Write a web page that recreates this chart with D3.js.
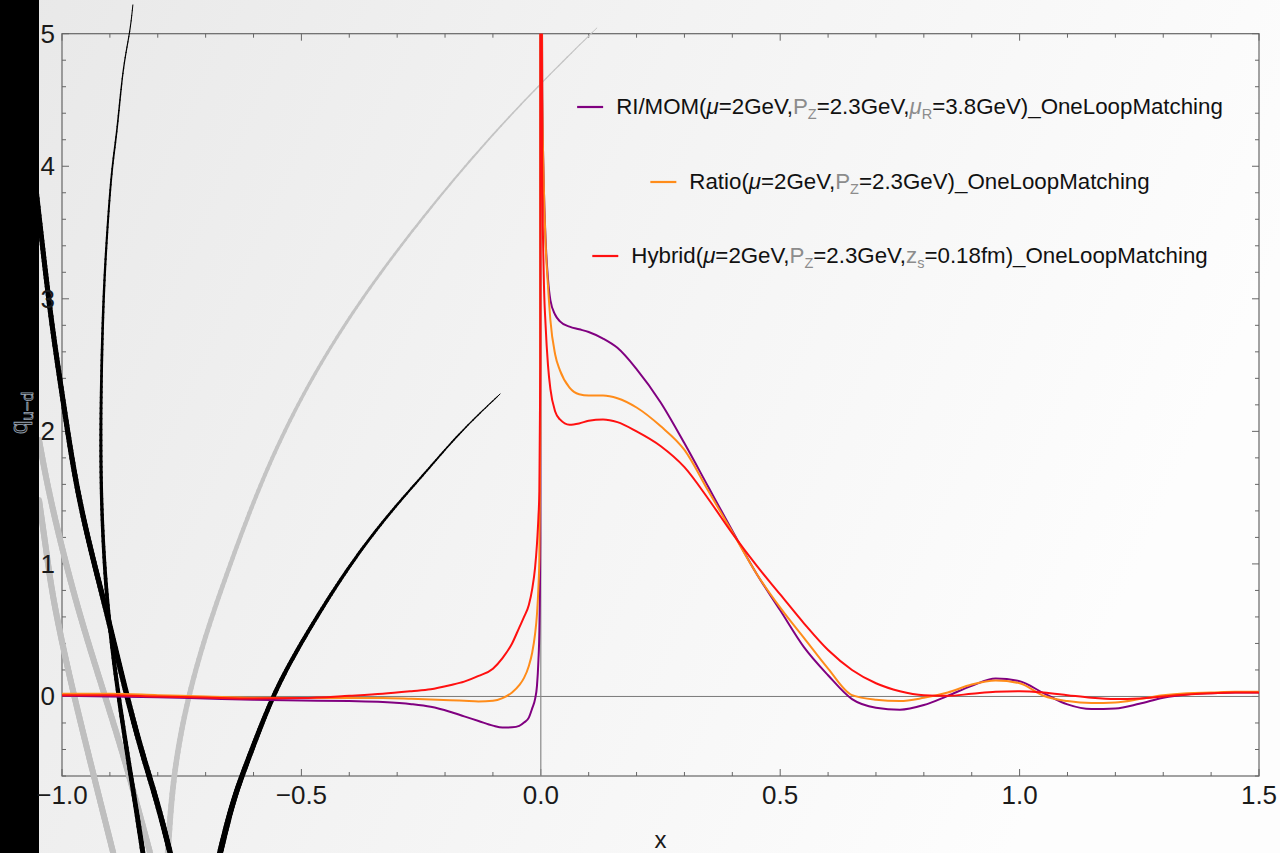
<!DOCTYPE html>
<html><head><meta charset="utf-8">
<script src="https://cdn.jsdelivr.net/npm/d3@7"></script>
<style>html,body{margin:0;padding:0;background:#fff;} svg{display:block;}</style>
</head><body>
<svg id="chart" width="1280" height="853"></svg>
<script>
// ---------- data ----------
const xValues = [
 -1.0, -0.9, -0.8, -0.7, -0.6, -0.5, -0.4, -0.33, -0.27, -0.23, -0.19, -0.16, -0.13,
 -0.1, -0.08, -0.06, -0.045, -0.035, -0.025, -0.018, -0.012, -0.008, -0.005, -0.003, -0.001, -0.0005,
 0.0005, 0.001, 0.003, 0.006, 0.01, 0.015, 0.02, 0.03, 0.04, 0.06, 0.08, 0.1,
 0.13, 0.16, 0.2, 0.25, 0.3, 0.35, 0.4, 0.45, 0.5, 0.55, 0.6,
 0.65, 0.7, 0.75, 0.8, 0.85, 0.9, 0.95, 1.0, 1.05, 1.1, 1.15, 1.2, 1.25, 1.3, 1.35, 1.4, 1.45, 1.5];
const riMomValues = [
 0.005, 0.0, -0.005, -0.015, -0.025, -0.03, -0.035, -0.042, -0.058, -0.078, -0.115, -0.15, -0.185,
 -0.22, -0.235, -0.233, -0.222, -0.197, -0.16, -0.09, -0.02, 0.08, 0.27, 0.5, 1.2, 9,
 9, 6.5, 4.6, 3.9, 3.45, 3.15, 2.99, 2.88, 2.83, 2.79, 2.77, 2.75,
 2.70, 2.63, 2.47, 2.22, 1.91, 1.58, 1.25, 0.93, 0.65, 0.37, 0.16,
 -0.02, -0.085, -0.10, -0.065, 0.005, 0.08, 0.135, 0.115, 0.025, -0.06, -0.095, -0.09, -0.055, -0.01, 0.015, 0.025, 0.03, 0.03];
const ratioValues = [
 0.02, 0.02, 0.01, 0.0, -0.01, -0.012, -0.012, -0.012, -0.018, -0.023, -0.028, -0.033, -0.038,
 -0.033, -0.012, 0.03, 0.085, 0.14, 0.23, 0.33, 0.47, 0.62, 0.82, 1.05, 2.0, 9,
 9, 6.5, 4.6, 3.9, 3.42, 3.1, 2.84, 2.58, 2.46, 2.33, 2.28, 2.27,
 2.27, 2.25, 2.18, 2.04, 1.86, 1.55, 1.24, 0.93, 0.67, 0.44, 0.21,
 0.01, -0.025, -0.035, -0.01, 0.03, 0.09, 0.12, 0.10, 0.005, -0.035, -0.05, -0.045, -0.02, 0.01, 0.025, 0.03, 0.035, 0.035];
const hybridValues = [
 0.01, 0.01, 0.0, -0.008, -0.015, -0.012, 0.005, 0.02, 0.04, 0.055, 0.085, 0.112, 0.155,
 0.21, 0.29, 0.40, 0.52, 0.60, 0.69, 0.81, 0.97, 1.15, 1.35, 1.55, 2.5, 9,
 9, 6.5, 4.0, 3.2, 2.8, 2.5, 2.32, 2.15, 2.09, 2.05, 2.06, 2.08,
 2.09, 2.07, 2.0, 1.89, 1.73, 1.49, 1.23, 0.99, 0.77, 0.55, 0.35,
 0.20, 0.10, 0.04, 0.01, 0.005, 0.02, 0.035, 0.04, 0.03, 0.01, -0.01, -0.02, -0.015, 0.0, 0.015, 0.025, 0.03, 0.03];

const seriesColors = ["#800080", "#ff8c1a", "#ff1010"];
const xTickValues = [-1, -0.5, 0, 0.5, 1, 1.5];
const xTickLabels = ["\u22121.0", "\u22120.5", "0.0", "0.5", "1.0", "1.5"];
const yTickValues = [0, 1, 2, 3, 4, 5];
const yTickLabels = ["0", "1", "2", "3", "4", "5"];
const xAxisTitle = "x";

// legend entries as rich-text runs: [text, style]  (n normal, i italic, g gray, gi gray italic, s gray subscript)
const legendRI = [["RI/MOM(", "n"], ["\u03bc", "i"], ["=2GeV,", "n"], ["P", "g"], ["Z", "s"], ["=2.3GeV,", "n"], ["\u03bc", "gi"], ["R", "s"], ["=3.8GeV)_OneLoopMatching", "n"]];
const legendRatio = [["Ratio(", "n"], ["\u03bc", "i"], ["=2GeV,", "n"], ["P", "g"], ["Z", "s"], ["=2.3GeV)_OneLoopMatching", "n"]];
const legendHybrid = [["Hybrid(", "n"], ["\u03bc", "i"], ["=2GeV,", "n"], ["P", "g"], ["Z", "s"], ["=2.3GeV,", "n"], ["z", "g"], ["s", "s"], ["=0.18fm)_OneLoopMatching", "n"]];

// decorative background strokes, in data coordinates
const decoBlackA = [[-0.852,5.217],[-0.858,5.006],[-0.873,4.749],[-0.885,4.251],[-0.896,3.995],[-0.906,3.497],[-0.914,2.991],[-0.919,2.237],[-0.919,1.633],[-0.914,1.128],[-0.904,0.630],[-0.887,0.124],[-0.866,-0.381],[-0.848,-0.781],[-0.831,-1.181]];
const decoBlackB = [[-1.054,3.821],[-1.036,3.240],[-1.019,2.742],[-0.998,2.237],[-0.973,1.633],[-0.942,1.128],[-0.906,0.630],[-0.873,0.124],[-0.837,-0.381],[-0.802,-0.781],[-0.774,-1.181]];
const decoBlackC = [[-0.085,2.282],[-0.169,1.995],[-0.238,1.701],[-0.309,1.415],[-0.378,1.098],[-0.447,0.728],[-0.538,0.177],[-0.580,-0.177],[-0.614,-0.502],[-0.643,-0.781],[-0.670,-1.181]];
const decoGrayD = [[0.117,5.043],[-0.002,4.621],[-0.127,4.138],[-0.252,3.595],[-0.378,2.991],[-0.482,2.388],[-0.555,1.860],[-0.607,1.407],[-0.653,0.954],[-0.697,0.502],[-0.733,0.049],[-0.758,-0.381],[-0.772,-0.781],[-0.779,-1.181]];
const decoGrayE = [[-1.048,1.935],[-1.025,1.482],[-0.973,0.728],[-0.921,0.124],[-0.868,-0.479],[-0.816,-1.181]];
const decoGrayF = [[-1.048,1.482],[-1.033,1.105],[-1.019,0.728],[-0.983,0.124],[-0.942,-0.479],[-0.893,-1.181]];

// ---------- layout ----------
const W = 1280, H = 853;
const plot = {left: 62, right: 1259, top: 33.7, bottom: 776};
const x = d3.scaleLinear().domain([-1, 1.5]).range([plot.left, plot.right]);
const y = d3.scaleLinear().domain([-0.6, 5]).range([plot.bottom, plot.top]);
const FONT = "'Liberation Sans', Arial, sans-serif";

const svg = d3.select("#chart");
const defs = svg.append("defs");
const grad = defs.append("linearGradient").attr("id", "bg").attr("x1", 0).attr("y1", 0).attr("x2", 1).attr("y2", 0.3);
grad.append("stop").attr("offset", 0).attr("stop-color", "#e8e8e8");
grad.append("stop").attr("offset", 0.5).attr("stop-color", "#f3f3f3");
grad.append("stop").attr("offset", 1).attr("stop-color", "#fdfdfd");
defs.append("clipPath").attr("id", "plotclip").append("rect")
  .attr("x", plot.left).attr("y", plot.top).attr("width", plot.right - plot.left).attr("height", plot.bottom - plot.top);

svg.append("rect").attr("width", W).attr("height", H).attr("fill", "url(#bg)");

// frame
const frameColor = "#666";
svg.append("rect").attr("x", plot.left).attr("y", plot.top)
  .attr("width", plot.right - plot.left).attr("height", plot.bottom - plot.top)
  .attr("fill", "none").attr("stroke", frameColor).attr("stroke-width", 1.2);

// ticks (inward, all four sides)
const xMinor = d3.range(-10, 16).map(i => i / 10);
const yMinor = d3.range(-3, 26).map(i => i / 5);
const isMajor = v => Math.abs(v * 2 - Math.round(v * 2)) < 1e-9;
const isMajorY = v => Math.abs(v - Math.round(v)) < 1e-9;
const tg = svg.append("g").attr("stroke", frameColor).attr("stroke-width", 1);
xMinor.forEach(v => {
  const L = isMajor(v) ? 7 : 4;
  tg.append("line").attr("x1", x(v)).attr("x2", x(v)).attr("y1", plot.bottom).attr("y2", plot.bottom - L);
  tg.append("line").attr("x1", x(v)).attr("x2", x(v)).attr("y1", plot.top).attr("y2", plot.top + L);
});
yMinor.forEach(v => {
  const L = isMajorY(v) ? 7 : 4;
  tg.append("line").attr("x1", plot.left).attr("x2", plot.left + L).attr("y1", y(v)).attr("y2", y(v));
  tg.append("line").attr("x1", plot.right).attr("x2", plot.right - L).attr("y1", y(v)).attr("y2", y(v));
});

// zero axes
svg.append("line").attr("x1", plot.left).attr("x2", plot.right).attr("y1", y(0)).attr("y2", y(0))
  .attr("stroke", "#7a7a7a").attr("stroke-width", 1);
svg.append("line").attr("x1", x(0)).attr("x2", x(0)).attr("y1", plot.top).attr("y2", plot.bottom)
  .attr("stroke", "#8a8a8a").attr("stroke-width", 1.2);

// decorative strokes with tapering widths
function deco(points, w0, w1, color) {
  const line = d3.line().x(d => x(d[0])).y(d => y(d[1])).curve(d3.curveBasis);
  const tmp = svg.append("path").attr("d", line(points)).attr("fill", "none").attr("stroke", "none");
  const node = tmp.node();
  const len = node.getTotalLength();
  const N = 160;
  const pts = d3.range(N + 1).map(i => node.getPointAtLength(len * i / N));
  tmp.remove();
  const g = svg.append("g").attr("stroke", color).attr("stroke-linecap", "round").attr("fill", "none");
  for (let i = 0; i < N; i++) {
    g.append("line").attr("x1", pts[i].x).attr("y1", pts[i].y).attr("x2", pts[i + 1].x).attr("y2", pts[i + 1].y)
      .attr("stroke-width", w0 + (w1 - w0) * i / (N - 1));
  }
}
deco(decoGrayE, 6, 6, "#bfbfbf");
deco(decoGrayF, 6, 6, "#bfbfbf");
deco(decoGrayD, 1, 6, "#c4c4c4");
deco(decoBlackA, 1, 5, "#000");
deco(decoBlackB, 5, 5.5, "#000");
deco(decoBlackC, 1, 6, "#000");

// black strip at left
svg.append("rect").attr("x", 0).attr("y", 0).attr("width", 39).attr("height", H).attr("fill", "#000");

// tick labels
svg.append("g").selectAll("text").data(xTickValues).join("text")
  .attr("x", d => x(d)).attr("y", 804).attr("text-anchor", "middle")
  .attr("font-family", FONT).attr("font-size", 26).attr("fill", "#1a1a1a")
  .text((d, i) => xTickLabels[i]);
svg.append("g").selectAll("text").data(yTickValues).join("text")
  .attr("x", 55).attr("y", d => y(d) + 9).attr("text-anchor", "end")
  .attr("font-family", FONT).attr("font-size", 26).attr("fill", "#1a1a1a")
  .text((d, i) => yTickLabels[i]);

// y axis title (rotated)
const yt = svg.append("text").attr("transform", "translate(27,413) rotate(-90)")
  .attr("text-anchor", "middle").attr("font-family", FONT).attr("font-size", 24)
  .attr("fill", "#111").attr("stroke", "#9aa6b5").attr("stroke-width", 0.8);
yt.append("tspan").text("q");
yt.append("tspan").attr("font-size", 17).attr("dy", 6).text("u\u2212d");

// x axis title
svg.append("text").attr("x", (plot.left + plot.right) / 2).attr("y", 848).attr("text-anchor", "middle")
  .attr("font-family", FONT).attr("font-size", 24).attr("fill", "#1a1a1a").text(xAxisTitle);

// series
const series = [riMomValues, ratioValues, hybridValues];
const lineGen = d3.line().x((d, i) => x(xValues[i])).y(d => y(d)).curve(d3.curveMonotoneX);
const dg = svg.append("g").attr("clip-path", "url(#plotclip)");
series.forEach((vals, k) => {
  dg.append("path").attr("d", lineGen(vals)).attr("fill", "none")
    .attr("stroke", seriesColors[k]).attr("stroke-width", 2).attr("stroke-linejoin", "round");
});

// legend
const legendEntries = [legendRI, legendRatio, legendHybrid];
const legendY = [107, 182, 256];
const legendCenter = 900;
legendEntries.forEach((runs, k) => {
  const g = svg.append("g");
  const t = g.append("text").attr("y", legendY[k] + 7).attr("font-family", FONT).attr("font-size", 22.3).attr("fill", "#111");
  let sub = false;
  runs.forEach(([txt, st]) => {
    const ts = t.append("tspan").text(txt);
    if (st === "i" || st === "gi") ts.attr("font-style", "italic");
    if (st === "g" || st === "gi" || st === "s") ts.attr("fill", "#8c8c8c");
    if (st === "s") { ts.attr("font-size", 14.5).attr("dy", 5); sub = true; }
    else if (sub) { ts.attr("dy", -5); sub = false; }
  });
  const tw = t.node().getComputedTextLength();
  const total = 26 + 13 + tw;
  const x0 = legendCenter - total / 2;
  g.append("line").attr("x1", x0).attr("x2", x0 + 26).attr("y1", legendY[k]).attr("y2", legendY[k])
    .attr("stroke", seriesColors[k]).attr("stroke-width", 2.2);
  t.attr("x", x0 + 39);
});
</script>
</body></html>
